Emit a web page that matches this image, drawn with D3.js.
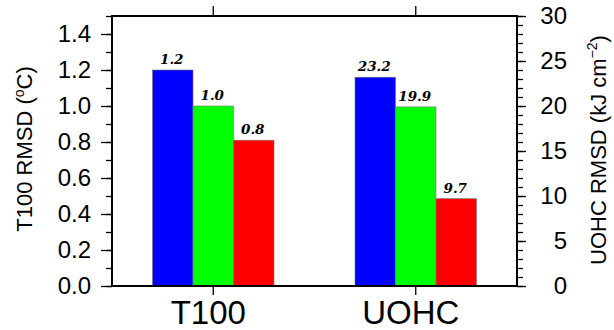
<!DOCTYPE html>
<html>
<head>
<meta charset="utf-8">
<script src="https://cdn.jsdelivr.net/npm/d3@7"></script>
<style>
  body { margin: 0; background: #fff; }
  svg { display: block; }
</style>
</head>
<body>
<div id="chart"></div>
<script>
// data
const categories = ["T100", "UOHC"];
const seriesNames = ["a", "b", "c"];
const seriesColors = ["#0000ff", "#00ff00", "#ff0000"];
const t100Values = [1.2, 1.0, 0.81];   // left axis, degC
const uohcValues = [23.2, 19.9, 9.7];  // right axis, kJ cm-2
const leftTicks = [0, 0.2, 0.4, 0.6, 0.8, 1.0, 1.2, 1.4];
const rightTicks = [0, 5, 10, 15, 20, 25, 30];

const width = 614, height = 330;
const plot = { left: 112, right: 517, top: 16, bottom: 286 };

const svg = d3.select("#chart").append("svg")
  .attr("width", width)
  .attr("height", height);

const x = d3.scaleBand()
  .domain(categories)
  .range([plot.left, plot.right])
  .padding(0);

const bw = x.bandwidth();
const xs = d3.scaleBand()
  .domain(seriesNames)
  .range([-0.3 * bw, 0.3 * bw])
  .padding(0);

const yLeft = d3.scaleLinear().domain([0, 1.5]).range([plot.bottom, plot.top]);
const yRight = d3.scaleLinear().domain([0, 30]).range([plot.bottom, plot.top]);

const groups = [
  { cat: "T100", values: t100Values, y: yLeft },
  { cat: "UOHC", values: uohcValues, y: yRight }
];

// bars
groups.forEach(g => {
  const cx = x(g.cat) + bw / 2;
  const gg = svg.append("g");
  gg.selectAll("rect")
    .data(g.values)
    .enter()
    .append("rect")
    .attr("x", (d, i) => cx + xs(seriesNames[i]))
    .attr("y", d => g.y(d))
    .attr("width", xs.bandwidth())
    .attr("height", d => plot.bottom - g.y(d))
    .attr("fill", (d, i) => seriesColors[i])
    .attr("stroke", "#777")
    .attr("stroke-width", 0.6);

  gg.selectAll("text")
    .data(g.values)
    .enter()
    .append("text")
    .attr("x", (d, i) => cx + xs(seriesNames[i]) + xs.bandwidth() / 2 - 1)
    .attr("y", d => g.y(d) - 6)
    .attr("text-anchor", "middle")
    .style("font-family", "'DejaVu Serif', serif")
    .style("font-weight", "bold")
    .style("font-style", "italic")
    .style("font-size", "13.5px")
    .text(d => d3.format(".1f")(d));
});

const tickFont = "'Liberation Sans', Arial, sans-serif";

// left axis: minor then major
svg.append("g")
  .attr("transform", "translate(" + plot.left + ",0)")
  .call(d3.axisLeft(yLeft).tickValues(d3.range(0, 1.51, 0.1)).tickSize(6).tickFormat(""))
  .call(g => g.select(".domain").remove());

svg.append("g")
  .attr("transform", "translate(" + plot.left + ",0)")
  .call(d3.axisLeft(yLeft).tickValues(leftTicks).tickSize(11).tickPadding(10).tickFormat(d3.format(".1f")))
  .call(g => g.select(".domain").remove())
  .selectAll("text")
  .style("font-family", tickFont)
  .style("font-size", "24px")
  .attr("fill", "#000");

// right axis
svg.append("g")
  .attr("transform", "translate(" + plot.right + ",0)")
  .call(d3.axisRight(yRight).tickValues(d3.range(0, 31, 1)).tickSize(6).tickFormat(""))
  .call(g => g.select(".domain").remove());

svg.append("g")
  .attr("transform", "translate(" + plot.right + ",0)")
  .call(d3.axisRight(yRight).tickValues(rightTicks).tickSize(9).tickFormat(d3.format("d")))
  .call(g => g.select(".domain").remove())
  .selectAll("text")
  .attr("x", 50)
  .attr("text-anchor", "end")
  .style("font-family", tickFont)
  .style("font-size", "24px")
  .attr("fill", "#000");

// bottom and top category ticks
svg.append("g")
  .attr("transform", "translate(0," + plot.bottom + ")")
  .call(d3.axisBottom(x).tickSize(9).tickPadding(6))
  .call(g => g.select(".domain").remove())
  .selectAll("text")
  .attr("dx", -5)
  .style("font-family", tickFont)
  .style("font-size", "33px")
  .attr("fill", "#000");

svg.append("g")
  .attr("transform", "translate(0," + plot.top + ")")
  .call(d3.axisTop(x).tickSize(10).tickFormat(""))
  .call(g => g.select(".domain").remove());

svg.selectAll(".tick line").attr("stroke", "#000").attr("stroke-width", 1.3);

// frame
svg.append("rect")
  .attr("x", plot.left)
  .attr("y", plot.top)
  .attr("width", plot.right - plot.left)
  .attr("height", plot.bottom - plot.top)
  .attr("fill", "none")
  .attr("stroke", "#000")
  .attr("stroke-width", 2);

// axis titles
const leftTitle = svg.append("text")
  .attr("transform", "translate(32,149) rotate(-90)")
  .attr("text-anchor", "middle")
  .style("font-family", tickFont)
  .style("font-size", "22px");
leftTitle.append("tspan").text("T100 RMSD (");
leftTitle.append("tspan").attr("dy", -8).style("font-size", "14px").text("o");
leftTitle.append("tspan").attr("dy", 8).text("C)");

const rightTitle = svg.append("text")
  .attr("transform", "translate(606,150) rotate(-90)")
  .attr("text-anchor", "middle")
  .style("font-family", tickFont)
  .style("font-size", "22px");
rightTitle.append("tspan").text("UOHC RMSD (kJ cm");
rightTitle.append("tspan").attr("dy", -9).style("font-size", "14px").text("\u22122");
rightTitle.append("tspan").attr("dy", 9).text(")");
</script>
</body>
</html>
